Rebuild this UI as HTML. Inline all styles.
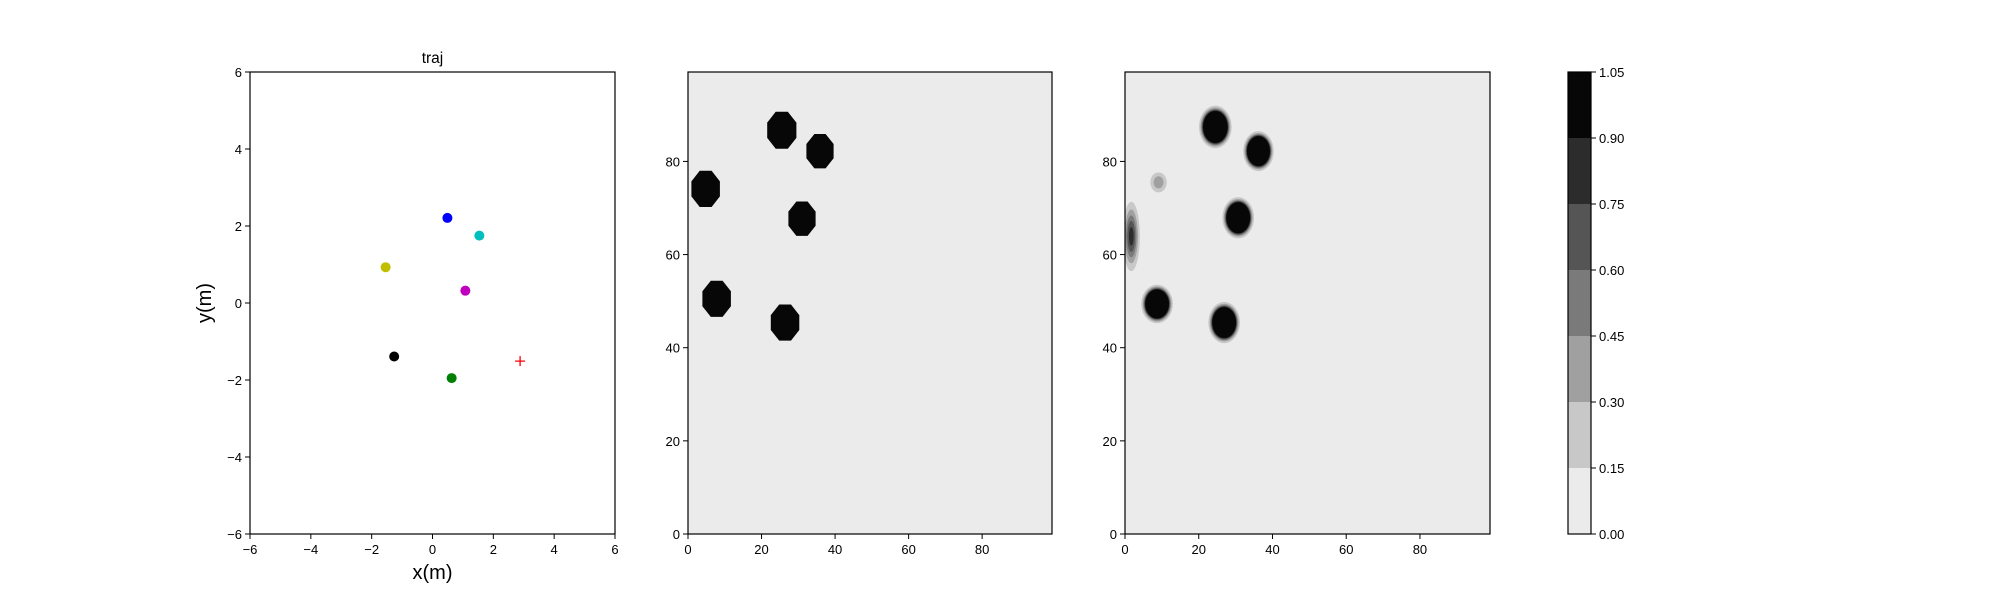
<!DOCTYPE html>
<html><head><meta charset="utf-8"><style>
html,body{margin:0;padding:0;background:#fff;}
svg{display:block;font-family:"Liberation Sans","DejaVu Sans",sans-serif;}
</style></head><body>
<svg id="fig" width="2000" height="600" viewBox="0 0 2000 600" xmlns="http://www.w3.org/2000/svg">
<rect width="2000" height="600" fill="#fff"/>
</svg>
<script>
// Panel 1: trajectory points
const trajX = [0.49, 1.54, -1.54, 1.08, -1.26, 0.63];
const trajY = [2.21, 1.75, 0.93, 0.32, -1.39, -1.95];
const trajColors = ['#0000ff','#00bfbf','#bfbf00','#bf00bf','#000000','#008000'];
const goalX = [2.88];
const goalY = [-1.51];
const trajTicks = [-6,-4,-2,0,2,4,6];
// Panel 2: ground-truth obstacles (octagons)
const obsX = [25.5, 35.9, 4.8, 31.0, 7.8, 26.4];
const obsY = [86.7, 82.2, 74.1, 67.7, 50.5, 45.4];
const obsR = [4.3, 4.0, 4.2, 4.0, 4.2, 4.2];
// Panel 3: estimated map blobs
const blobX = [24.5, 36.2, 9.1, 30.7, 1.7, 8.7, 26.9];
const blobY = [87.4, 82.2, 75.5, 67.9, 63.9, 49.4, 45.4];
const blobPeak = [9, 9, 0.45, 9, 0.85, 9, 9];
const blobSX = [1.55, 1.45, 1.5, 1.5, 1.25, 1.5, 1.5];
const blobSY = [1.6, 1.5, 1.45, 1.55, 4.0, 1.45, 1.55];
const mapTicks = [0,20,40,60,80];
// Colorbar
const cbLevels = [0,0.15,0.30,0.45,0.60,0.75,0.90,1.05];
const cbLabels = ['0.00','0.15','0.30','0.45','0.60','0.75','0.90','1.05'];
const cbColors = ['#ebebeb','#c8c8c8','#a0a0a0','#7a7a7a','#555555','#2c2c2c','#070707'];

const NS='http://www.w3.org/2000/svg';
const svg=document.getElementById('fig');
function mk(tag,attrs,parent){const e=document.createElementNS(NS,tag);for(const k in attrs)e.setAttribute(k,attrs[k]);(parent||svg).appendChild(e);return e;}
function txt(s,attrs,parent){const e=mk('text',attrs,parent);e.textContent=s;return e;}
const fmt=v=>v<0?'\u2212'+Math.abs(v):String(v);

// ---------- Panel 1 ----------
const P1={l:250,r:615,t:72,b:534};
const x1=v=>P1.l+(v+6)/12*(P1.r-P1.l);
const y1=v=>P1.b-(v+6)/12*(P1.b-P1.t);
const g1=mk('g',{});


trajX.forEach((v,i)=>{
  const c=mk('circle',{cx:x1(v),cy:y1(trajY[i]),r:5,fill:trajColors[i]},g1);
  
  
});
goalX.forEach((v,i)=>{
  const cx=x1(v),cy=y1(goalY[i]);
  const p=mk('path',{d:`M${cx-5} ${cy}H${cx+5}M${cx} ${cy-5}V${cy+5}`,stroke:'#ff0000','stroke-width':1.3,fill:'none'},g1);
  
  
});
const f1=mk('rect',{x:P1.l,y:P1.t,width:P1.r-P1.l,height:P1.b-P1.t,fill:'none',stroke:'#000','stroke-width':1.2},g1);


trajTicks.forEach(v=>{
  mk('line',{x1:x1(v),x2:x1(v),y1:P1.b,y2:P1.b+5,stroke:'#000'},g1);
  const t=txt(fmt(v),{x:x1(v),y:P1.b+20,'font-size':13,'text-anchor':'middle'},g1);
  
  
  mk('line',{x1:P1.l-5,x2:P1.l,y1:y1(v),y2:y1(v),stroke:'#000'},g1);
  const u=txt(fmt(v),{x:P1.l-8,y:y1(v)+5,'font-size':13,'text-anchor':'end'},g1);
  
  
});
const tt=txt('traj',{x:(P1.l+P1.r)/2,y:63,'font-size':15.5,'text-anchor':'middle'},g1);


const xl=txt('x(m)',{x:(P1.l+P1.r)/2,y:579,'font-size':20,'text-anchor':'middle'},g1);


const yl=txt('y(m)',{x:0,y:0,'font-size':20,'text-anchor':'middle',transform:`translate(211,${(P1.t+P1.b)/2}) rotate(-90)`},g1);



// ---------- map axes helper ----------
function mapAxes(P,name){
  const g=mk('g',{});
  
  
  const bg=mk('rect',{x:P.l,y:P.t,width:P.r-P.l,height:P.b-P.t,fill:'#ebebeb'},g);
  
  
  return g;
}
function mapFrame(P,g,xm,ym){
  mk('rect',{x:P.l,y:P.t,width:P.r-P.l,height:P.b-P.t,fill:'none',stroke:'#000','stroke-width':1.2},g);
  mapTicks.forEach(v=>{
    mk('line',{x1:xm(v),x2:xm(v),y1:P.b,y2:P.b+5,stroke:'#000'},g);
    const t=txt(String(v),{x:xm(v),y:P.b+20,'font-size':13,'text-anchor':'middle'},g);
    
    
    mk('line',{x1:P.l-5,x2:P.l,y1:ym(v),y2:ym(v),stroke:'#000'},g);
    const u=txt(String(v),{x:P.l-8,y:ym(v)+5,'font-size':13,'text-anchor':'end'},g);
    
    
  });
}

// ---------- Panel 2 ----------
const P2={l:688,r:1052,t:72,b:534};
const x2=v=>P2.l+v/99*(P2.r-P2.l);
const y2=v=>P2.b-v/99.2*(P2.b-P2.t);
const g2=mapAxes(P2,'ground-truth-map');
const clip2=mk('clipPath',{id:'c2'},g2);
mk('rect',{x:P2.l,y:P2.t,width:P2.r-P2.l,height:P2.b-P2.t},clip2);
obsX.forEach((v,i)=>{
  const pts=[];
  for(let k=0;k<8;k++){const a=Math.PI/8+k*Math.PI/4;
    pts.push((x2(v+obsR[i]*Math.cos(a))).toFixed(1)+','+(y2(obsY[i]+obsR[i]*Math.sin(a))).toFixed(1));}
  const p=mk('polygon',{points:pts.join(' '),fill:'#070707','clip-path':'url(#c2)'},g2);
  
  
});
mapFrame(P2,g2,x2,y2);

// ---------- Panel 3 ----------
const P3={l:1125,r:1490,t:72,b:534};
const x3=v=>P3.l+v/99*(P3.r-P3.l);
const y3=v=>P3.b-v/99.2*(P3.b-P3.t);
const sx3=(P3.r-P3.l)/99, sy3=(P3.b-P3.t)/99.2;
const g3=mapAxes(P3,'estimated-map');
const clip3=mk('clipPath',{id:'c3'},g3);
mk('rect',{x:P3.l,y:P3.t,width:P3.r-P3.l,height:P3.b-P3.t},clip3);
for(let lv=1;lv<cbColors.length;lv++){
  const L=cbLevels[lv];
  blobX.forEach((v,i)=>{
    if(blobPeak[i]<=L)return;
    const k=Math.sqrt(2*Math.log(blobPeak[i]/L));
    const e=mk('ellipse',{cx:x3(v),cy:y3(blobY[i]),rx:k*blobSX[i]*sx3,ry:k*blobSY[i]*sy3,fill:cbColors[lv],'clip-path':'url(#c3)'},g3);
    
    
  });
}
mapFrame(P3,g3,x3,y3);

// ---------- Colorbar ----------
const CB={l:1568,r:1591,t:72,b:534};
const yc=v=>CB.b-v/1.05*(CB.b-CB.t);
const gc=mk('g',{});


cbColors.forEach((c,i)=>{
  const r=mk('rect',{x:CB.l,y:yc(cbLevels[i+1]),width:CB.r-CB.l,height:yc(cbLevels[i])-yc(cbLevels[i+1]),fill:c},gc);
  
  
});
mk('rect',{x:CB.l,y:CB.t,width:CB.r-CB.l,height:CB.b-CB.t,fill:'none',stroke:'#000','stroke-width':1.2},gc);
cbLevels.forEach((v,i)=>{
  mk('line',{x1:CB.r,x2:CB.r+5,y1:yc(v),y2:yc(v),stroke:'#000'},gc);
  const t=txt(cbLabels[i],{x:CB.r+8,y:yc(v)+5,'font-size':13},gc);
  
  
});
</script>
</body></html>
